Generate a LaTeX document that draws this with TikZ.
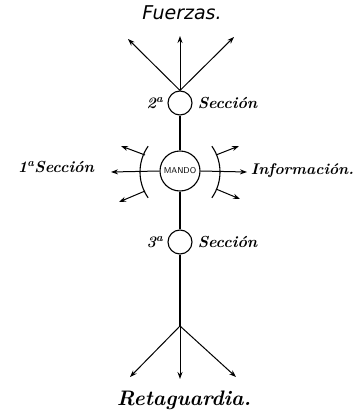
\documentclass[tikz,border=0pt]{standalone}
\usepackage{fontspec}
\newfontfamily\titlefont{DejaVu Sans}
\usepackage{tikz}
\usetikzlibrary{positioning, arrows.meta, calc}

\begin{document}
\begin{tikzpicture}[
        x=1pt, y=1pt,
        lbl/.style={font=\fontsize{16}{18}\selectfont\bfseries\itshape, inner sep=1pt},
        ring/.style={draw, circle, line width=1.1pt, inner sep=0pt, minimum size=#1},
        ring/.default=24pt,
        arr/.style={-{Stealth[length=7pt, width=5pt]}, line width=1pt},
        bow/.style={line width=1.1pt},
        axis/.style={line width=1.1pt},
    ]
    \useasboundingbox (0,0) rectangle (355,-412);

    % ---- stations on the axis ----
    \node[ring] (sec2) at (180,-103) {};
    \node[ring=40pt, font=\fontsize{8.5}{9}\selectfont\sffamily] (mando) at (180,-171) {MANDO};
    \node[ring] (sec3) at (180,-242) {};
    \coordinate (fork) at (180,-326);

    \draw[axis] (sec2) -- (mando);
    \draw[axis] (mando) -- (sec3);
    \draw[axis] (sec3) -- (fork);

    % ---- Fuerzas ----
    \coordinate (fl) at (128,-39);
    \coordinate (fc) at (180,-36);
    \coordinate (fr) at (234,-37);
    \draw[arr] (sec2.north) -- (fl);
    \draw[arr] (sec2.north) -- (fc);
    \draw[arr] (sec2.north) -- (fr);
    \node[inner sep=1pt, font=\fontsize{19}{21}\selectfont\titlefont\itshape] (fuerzas) at (182,-13) {Fuerzas.};

    % ---- Retaguardia ----
    \coordinate (rl) at (130,-377);
    \coordinate (rc) at (180,-379);
    \coordinate (rr) at (236,-377);
    \draw[arr] (fork) -- (rl);
    \draw[arr] (fork) -- (rc);
    \draw[arr] (fork) -- (rr);
    \node[lbl, font=\fontsize{21}{23}\selectfont\bfseries\itshape] (reta) at (184,-400) {Retaguardia.};

    % ---- arcs ----
    \draw[bow] ($(mando.center)+(5,-1)$) ++(145:45) arc[start angle=145, end angle=215, radius=45];
    \draw[bow] ($(mando.center)+(-5,-1)$) ++(35:45) arc[start angle=35, end angle=-35, radius=45];

    % ---- 1a Seccion (left) ----
    \coordinate (lw) at (111,-172);
    \coordinate (lu0) at (145,-155);
    \coordinate (lu) at (121,-146);
    \coordinate (ld0) at (145,-191);
    \coordinate (ld) at (119,-202);
    \draw[arr] (mando.west) -- (lw);
    \draw[arr] (lu0) -- (lu);
    \draw[arr] (ld0) -- (ld);
    \node[lbl] (sec1) at (56,-167) {1\textsuperscript{a}Sección};

    % ---- Informacion (right) ----
    \coordinate (re) at (247,-172);
    \coordinate (ru0) at (216,-155);
    \coordinate (ru) at (239,-146);
    \coordinate (rd0) at (216,-189);
    \coordinate (rd) at (240,-199);
    \draw[arr] (mando.east) -- (re);
    \draw[arr] (ru0) -- (ru);
    \draw[arr] (rd0) -- (rd);
    \node[lbl, anchor=east, inner sep=0pt, font=\fontsize{15.5}{18}\selectfont\bfseries\itshape] (info) at (354,-171) {Información.};

    % ---- section labels ----
    \node[lbl, left=3pt of sec2] (n2) {2\textsuperscript{a}};
    \node[lbl, right=4pt of sec2] (s2) {Sección};
    \node[lbl, left=3pt of sec3] (n3) {3\textsuperscript{a}};
    \node[lbl, right=4pt of sec3] (s3) {Sección};
\end{tikzpicture}
\end{document}
